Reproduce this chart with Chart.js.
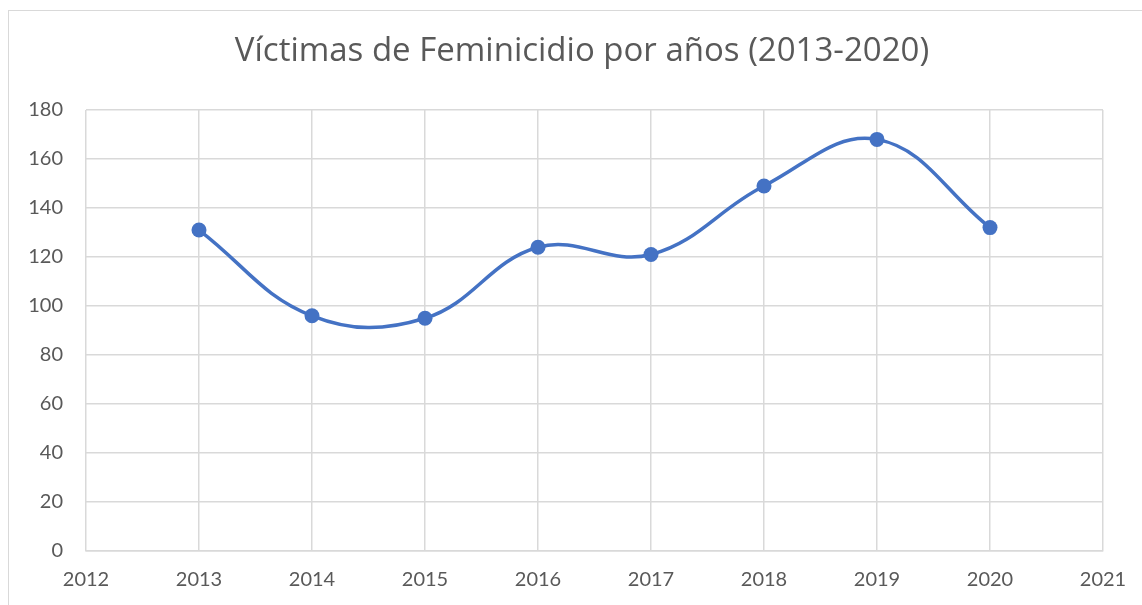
<!DOCTYPE html>
<html>
<head>
<meta charset="utf-8">
<script src="https://cdn.jsdelivr.net/npm/chart.js@4"></script>
<style>
html,body{margin:0;padding:0;background:#fff;}
#wrap{position:relative;width:1142px;height:605px;overflow:hidden;}
#frame{position:absolute;left:8px;top:10px;width:1200px;height:700px;border:1px solid #d9d9d9;box-sizing:border-box;}
canvas{position:absolute;left:0;top:0;}
</style>
</head>
<body>
<div id="wrap"><div id="frame"></div><canvas id="c" width="1142" height="605"></canvas></div>
<script>
const titleText = 'Víctimas de Feminicidio por años (2013-2020)';
const years = [2013, 2014, 2015, 2016, 2017, 2018, 2019, 2020];
const victims = [131, 96, 95, 124, 121, 149, 168, 132];
const xMin = 2012, xMax = 2021;
const yMin = 0, yMax = 180, yStep = 20;

const FONT = 'Lato, "Open Sans", sans-serif';
const TITLE_FONT = '"Open Sans", Lato, sans-serif';
const TXT = '#595959';
const GRID = '#d9d9d9';

new Chart(document.getElementById('c'), {
  type: 'line',
  data: {
    datasets: [{
      data: years.map((y, i) => ({x: y, y: victims[i]})),
      borderColor: '#4472C4',
      backgroundColor: '#4472C4',
      borderWidth: 3.5,
      pointRadius: 7.5,
      pointHoverRadius: 7.5,
      pointBorderWidth: 0,
      tension: 0.4,
      fill: false
    }]
  },
  options: {
    responsive: false,
    animation: false,
    layout: {padding: {left: 22, right: 0, top: 0, bottom: 0}},
    plugins: {
      legend: {display: false},
      tooltip: {enabled: false},
      title: {
        display: true,
        text: titleText,
        color: TXT,
        font: {family: TITLE_FONT, size: 33, weight: 'normal', lineHeight: 1.2},
        padding: {top: 32, bottom: 38.4}
      }
    },
    scales: {
      x: {
        type: 'linear',
        min: xMin, max: xMax,
        ticks: {stepSize: 1, color: TXT, font: {family: FONT, size: 20}, padding: 17,
          callback: v => String(v), maxRotation: 0},
        grid: {color: GRID, lineWidth: 1.5, drawTicks: false},
        border: {color: GRID, width: 1.5},
        afterFit: s => { s.height = 54; s.paddingRight = 39; }
      },
      y: {
        min: yMin, max: yMax,
        ticks: {stepSize: yStep, color: TXT, font: {family: FONT, size: 20}, padding: 23},
        grid: {color: GRID, lineWidth: 1.5, drawTicks: false},
        border: {display: false},
        afterFit: s => { s.width = 64; }
      }
    }
  }
});
</script>
</body>
</html>
